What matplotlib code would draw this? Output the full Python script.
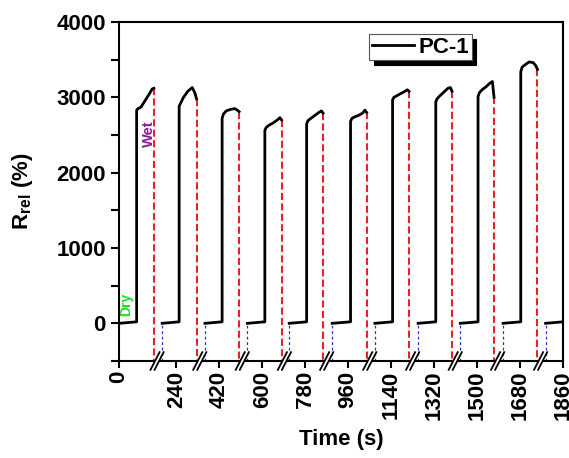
import numpy as np
import matplotlib
matplotlib.use("Agg")
import matplotlib.pyplot as plt

plt.rcParams["font.family"] = ["Liberation Sans", "DejaVu Sans"]
plt.rcParams["font.weight"] = "bold"
plt.rcParams["mathtext.fontset"] = "custom"
plt.rcParams["mathtext.bf"] = "Liberation Sans:bold"
plt.rcParams["mathtext.rm"] = "Liberation Sans:bold"

# switching times (s): step up to wet, end of wet step, recovery back to dry
rise_t = [74, 252, 432, 611, 786, 970, 1146, 1327, 1504, 1683]
wet_end_t = [146, 325, 503, 681, 855, 1037, 1215, 1395, 1571, 1753]
recover_t = [181, 360, 538, 713, 893, 1072, 1253, 1430, 1609, 1787]
t_end = 1860

# relative response along each wet step, sampled at wet_frac of the step
wet_frac = [0.0, 0.08, 0.25, 0.5, 0.75, 0.9, 1.0]
wet_vals = [
    [2830, 2850, 2870, 2960, 3050, 3110, 3120],
    [2880, 2920, 3000, 3080, 3130, 3060, 2980],
    [2720, 2780, 2820, 2840, 2850, 2830, 2810],
    [2560, 2600, 2630, 2660, 2700, 2730, 2700],
    [2650, 2690, 2720, 2760, 2800, 2820, 2790],
    [2680, 2720, 2740, 2760, 2790, 2830, 2800],
    [2965, 3000, 3020, 3050, 3080, 3100, 3080],
    [2940, 2980, 3020, 3070, 3120, 3130, 3080],
    [3010, 3060, 3100, 3140, 3190, 3210, 3000],
    [3340, 3400, 3430, 3470, 3460, 3420, 3370],
]
dry_start, dry_end = 0, 20

x_ticks = [0, 240, 420, 600, 780, 960, 1140, 1320, 1500, 1680, 1860]

# build the trace, broken after each wet step
xs, ys = [], []
starts = [0] + recover_t[:-1]
for k in range(len(rise_t)):
    xs += [starts[k], rise_t[k]]
    ys += [dry_start, dry_end]
    span = wet_end_t[k] - rise_t[k]
    for f, v in zip(wet_frac, wet_vals[k]):
        xs.append(rise_t[k] + f * span)
        ys.append(v)
    xs.append(np.nan)
    ys.append(np.nan)
xs += [recover_t[-1], t_end]
ys += [dry_start, dry_end]

fig = plt.figure(figsize=(5.69, 4.58), dpi=100)
ax = fig.add_axes([0.2091, 0.2118, 0.7804, 0.7402])
ymin, ymax = -500, 4000

for k in range(len(rise_t)):
    ax.plot([wet_end_t[k], wet_end_t[k]], [wet_vals[k][-1], ymin],
            color="#e8202a", lw=1.5, dashes=(3.4, 1.6), zorder=1)
    ax.plot([recover_t[k], recover_t[k]], [ymin, dry_start],
            color="#2030d0", lw=0.9, dashes=(2.2, 2.2), zorder=1)

ax.plot(xs, ys, color="black", lw=2.0, label="PC-1", zorder=3)

# axis break marks on the time axis
trans = ax.get_xaxis_transform()
sx, sy, gap = 19, 0.026, 17
for a, b in zip(wet_end_t, recover_t):
    xb = (a + b) / 2 - 4
    x1, x2 = xb - gap / 2, xb + gap / 2
    ax.fill([x1 - sx, x2 - sx, x2 + sx, x1 + sx], [-sy, -sy, sy, sy],
            color="white", transform=trans, clip_on=False, zorder=4, lw=0)
    for xx in (x1, x2):
        ax.plot([xx - sx, xx + sx], [-sy, sy], color="black", lw=1.3,
                transform=trans, clip_on=False, zorder=5)

ax.text(30, 250, "Dry", color="#22dd22", rotation=90, fontsize=10,
        fontweight="bold", ha="center", va="center")
ax.text(124, 2520, "Wet", color="#8a1a9a", rotation=90, fontsize=10.5,
        fontweight="bold", ha="center", va="center")

ax.set_xlim(0, t_end)
ax.set_ylim(ymin, ymax)
ax.set_xticks(x_ticks)
ax.set_xticklabels([str(t) for t in x_ticks], rotation=90)
ax.set_yticks([0, 1000, 2000, 3000, 4000])
ax.set_yticks([-500, 500, 1500, 2500, 3500], minor=True)
ax.tick_params(axis="both", which="both", direction="out", width=1.5,
               labelsize=16)
ax.tick_params(axis="y", which="major", length=6)
ax.tick_params(axis="y", which="minor", length=6)
ax.tick_params(axis="x", which="major", length=5, pad=2)
for lab in ax.get_xticklabels() + ax.get_yticklabels():
    lab.set_fontweight("bold")
for sp in ax.spines.values():
    sp.set_linewidth(1.5)

ax.set_xlabel("Time (s)", fontsize=16, fontweight="bold", labelpad=6)
ax.set_ylabel(r"$\mathbf{R_{rel}}$ (%)", fontsize=16, fontweight="bold",
              labelpad=15)

leg = ax.legend(loc="upper left", bbox_to_anchor=(0.563, 0.965),
                borderaxespad=0, fontsize=16, handlelength=1.9,
                handletextpad=0.2, borderpad=0.12, fancybox=False,
                shadow={"ox": 3.5, "oy": -3.5, "color": "black", "alpha": 1})
leg.get_frame().set_edgecolor("#555555")
leg.get_frame().set_linewidth(0.8)
for txt in leg.get_texts():
    txt.set_fontweight("bold")

fig.savefig("out.png", dpi=100)
